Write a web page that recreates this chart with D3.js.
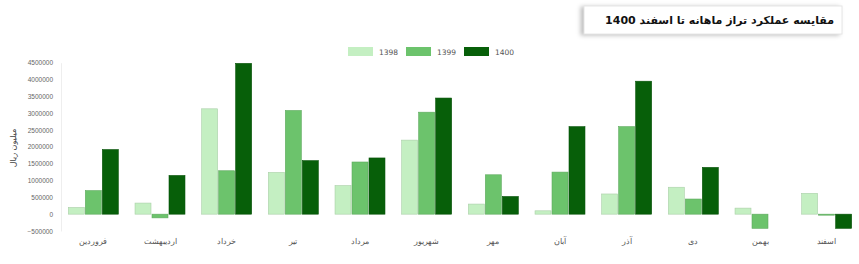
<!DOCTYPE html>
<html>
<head>
<meta charset="utf-8">
<script src="https://cdn.jsdelivr.net/npm/d3@7"></script>
<style>
  body { margin: 0; background: #fff; }
  svg { display: block; font-family: "DejaVu Sans", sans-serif; }
</style>
</head>
<body>
<svg id="chart" width="859" height="264"></svg>
<script>
// months, left to right as in the picture
const months = ["فروردین", "اردیبهشت", "خرداد", "تیر", "مرداد", "شهریور", "مهر", "آبان", "آذر", "دی", "بهمن", "اسفند"];
const years = ["1398", "1399", "1400"];

// values in million rials
const v1398 = [200000, 330000, 3130000, 1240000, 850000, 2200000, 300000, 100000, 600000, 800000, 180000, 620000];
const v1399 = [700000, -110000, 1290000, 3080000, 1550000, 3030000, 1170000, 1250000, 2600000, 450000, -420000, -30000];
const v1400 = [1920000, 1150000, 4480000, 1590000, 1670000, 3450000, 525000, 2600000, 3950000, 1390000, 0, -420000];

const yTicks = [-500000, 0, 500000, 1000000, 1500000, 2000000, 2500000, 3000000, 3500000, 4000000, 4500000];
const colors = ["#c4efc2", "#6cc36c", "#075f09"];

const series = [v1398, v1399, v1400];
const data = months.map(function(m, i) {
	return { month: m, values: years.map(function(y, j) { return { year: y, value: series[j][i] }; }) };
});

const svg = d3.select("#chart");

// title box, top right
const tb = svg.append("g");
tb.append("rect")
	.attr("x", 584).attr("y", 6).attr("width", 258).attr("height", 28)
	.attr("fill", "#fff")
	.attr("stroke", "#e6e6e6")
	.style("filter", "drop-shadow(-3px 1px 2px rgba(0,0,0,0.25))");
tb.append("text")
	.attr("x", 834).attr("y", 24)
	.attr("text-anchor", "start")
	.attr("direction", "rtl")
	.style("font-size", "11px")
	.style("font-weight", "bold")
	.attr("fill", "#111")
	.text("مقایسه عملکرد تراز ماهانه تا اسفند 1400");

const x0 = d3.scaleBand()
	.domain(months)
	.range([60, 860])
	.paddingInner(0.22)
	.paddingOuter(0.11);

const x1 = d3.scaleBand()
	.domain(years)
	.range([0, x0.bandwidth()])
	.padding(0.06);

const y = d3.scaleLinear()
	.domain([-500000, 4500000])
	.range([231, 62.7]);

const color = d3.scaleOrdinal().domain(years).range(colors);

// y axis
const yAxis = d3.axisLeft(y).tickValues(yTicks).tickSize(0).tickPadding(8).tickFormat(d3.format("d"));
const ya = svg.append("g").attr("transform", "translate(61,0)").call(yAxis);
ya.select(".domain").attr("stroke", "#eeeeee");
ya.selectAll("text").attr("fill", "#666").style("font-size", "6.5px");

// bars
const groups = svg.selectAll("g.month")
	.data(data)
	.enter()
	.append("g")
	.attr("class", "month")
	.attr("transform", function(d) { return "translate(" + x0(d.month) + ",0)"; });

groups.selectAll("rect")
	.data(function(d) { return d.values; })
	.enter()
	.append("rect")
	.attr("x", function(d) { return x1(d.year); })
	.attr("y", function(d) { return y(Math.max(0, d.value)); })
	.attr("width", x1.bandwidth())
	.attr("height", function(d) { return Math.abs(y(d.value) - y(0)); })
	.attr("fill", function(d) { return color(d.year); })
	.attr("stroke", function(d) { return d.value === 0 ? "none" : d3.color(color(d.year)).darker(0.4); })
	.attr("stroke-width", 0.6);

// x axis labels
const xAxis = d3.axisBottom(x0).tickSize(0).tickPadding(0);
const xa = svg.append("g").attr("transform", "translate(0,238)").call(xAxis);
xa.select(".domain").remove();
xa.selectAll("text").attr("fill", "#555").style("font-size", "8px");

// legend
const leg = svg.append("g");
const legX = [348, 406, 464];
years.forEach(function(yr, i) {
	leg.append("rect")
		.attr("x", legX[i]).attr("y", 47)
		.attr("width", 25).attr("height", 9)
		.attr("fill", color(yr));
	leg.append("text")
		.attr("x", legX[i] + 31).attr("y", 54.5)
		.attr("fill", "#555")
		.style("font-size", "7.5px")
		.text(yr);
});

// y axis title
svg.append("text")
	.attr("transform", "rotate(-90)")
	.attr("x", -148)
	.attr("y", 16)
	.attr("text-anchor", "middle")
	.attr("fill", "#444")
	.style("font-size", "8px")
	.text("میلیون ریال");
</script>
</body>
</html>
